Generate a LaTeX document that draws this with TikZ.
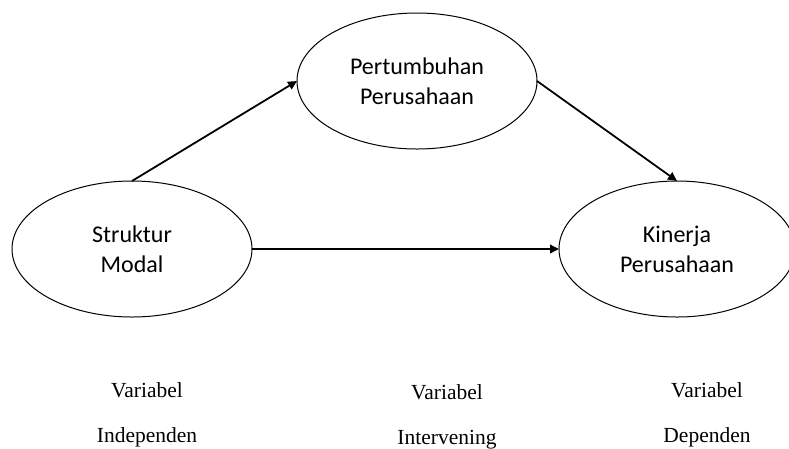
\documentclass[tikz,border=0pt]{standalone}
\usepackage{fontspec}
\setmainfont{Liberation Serif}
\newfontfamily\calibri{Carlito}
\usetikzlibrary{arrows.meta, positioning, shapes.geometric}

\begin{document}
\begin{tikzpicture}[
    x=1pt, y=-1pt,
    >={Triangle[length=9pt, width=8.5pt]},
    var/.style={ellipse, draw, line width=1pt, inner sep=0pt, outer sep=0pt,
                minimum width=240pt, minimum height=136pt, align=center,
                font=\calibri\fontsize{24}{30}\selectfont},
    link/.style={->, line width=1.8pt},
    kind/.style={anchor=base, font=\fontsize{21.5}{26}\selectfont},
]
\useasboundingbox (0,0) rectangle (789,448);
\clip (0,0) rectangle (789,448);

% ---- variables ----
\node[var] (modal)   at (132, 249) {Struktur\\Modal};
\node[var] (tumbuh)  at (417,  81) {Pertumbuhan\\Perusahaan};
\node[var, minimum width=236pt] (kinerja) at (677, 249) {Kinerja\\Perusahaan};

% ---- paths ----
\draw[link] (modal.north) -- (tumbuh.west);
\draw[link] (tumbuh.east) -- (kinerja.north);
\draw[link] (modal.east)  -- (kinerja.west);

% ---- variable types ----
\foreach \x/\y/\nm/\txt in {147/397/ind/Independen, 447/399/itv/Intervening, 707/397/dep/Dependen} {
  \node[kind] (var-\nm) at (\x, \y) {Variabel};
  \node[kind] (typ-\nm) at (\x, \y+45) {\txt};
}

\end{tikzpicture}
\end{document}
